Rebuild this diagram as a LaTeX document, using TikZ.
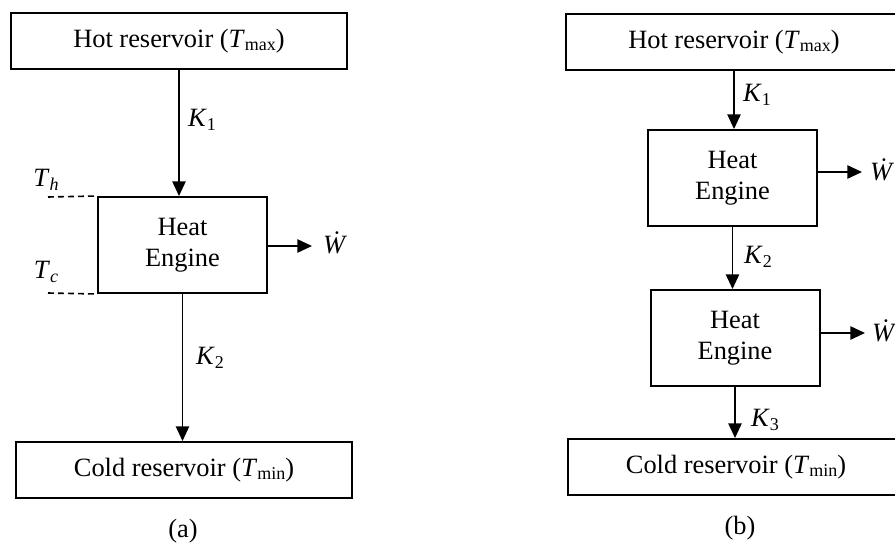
\documentclass[tikz,border=0pt]{standalone}
\usepackage{fontspec}
\setmainfont{Liberation Serif}
\usetikzlibrary{arrows.meta}

\newcommand{\lowidx}[1]{\raisebox{-0.3ex}{\fontsize{13.5}{13.5}\selectfont #1}}
\newcommand{\var}[2]{\textit{#1}\lowidx{#2}}
\newcommand{\wdot}{\textit{\.W}}

\tikzset{every picture/.style={line width=0.75pt}}
\tikzset{
  reservoir/.style={draw, line width=1.5pt, minimum width=252pt, minimum height=42pt, inner sep=0pt},
  engine/.style={draw, line width=1.5pt, minimum width=126.75pt, minimum height=72pt, inner sep=0pt, align=center},
  flow/.style={line width=1.2pt, -{Triangle[length=11pt,width=10pt]}},
  templine/.style={line width=1.2pt, dash pattern=on 4.5pt off 3pt},
}

\begin{document}
\begin{tikzpicture}[x=0.75pt,y=0.75pt,yscale=-1,xscale=1,font=\fontsize{19.8}{23}\selectfont]
\clip (0,0) rectangle (895,549);

%Shape: Rectangle [panel (a)]
\node [reservoir] (hotA) at (179,41) {Hot reservoir (\var{T}{max})};
\node [engine] (engA) at (182.5,245) {Heat\\Engine};
\node [reservoir] (coldA) at (184,470) {Cold reservoir (\var{T}{min})};
\coordinate (thA) at (48,197);
\coordinate (tcA) at (48,293);
\coordinate (wA) at (312,246);

%Straight Lines [panel (a)]
\draw [flow] (hotA.south) -- (hotA.south |- engA.north);
\draw [flow] (engA.south) -- (engA.south |- coldA.north);
\draw [flow] (engA.east |- wA) -- (wA);
\draw [templine] (thA) -- (engA.north west);
\draw [templine] (tcA) -- (engA.south west);

% Text Node
\node (k1A) at (202,120) {\var{K}{1}};
\node (k2A) at (210,358) {\var{K}{2}};
\node (thLab) at (46,180) {\var{T}{\textit{h}}};
\node (tcLab) at (46,272) {\var{T}{\textit{c}}};
\node (wLabA) at (335,243) {\wdot};
\node (capA) at (183,531) {(a)};

%Shape: Rectangle [panel (b)]
\node [reservoir] (hotB) at (734,42) {Hot reservoir (\var{T}{max})};
\node [engine] (engB1) at (732.5,178) {Heat\\Engine};
\node [engine] (engB2) at (735,338) {Heat\\Engine};
\node [reservoir] (coldB) at (736,467) {Cold reservoir (\var{T}{min})};
\coordinate (wB1) at (862,172);
\coordinate (wB2) at (865,333);

%Straight Lines [panel (b)]
\draw [flow] (hotB.south) -- (hotB.south |- engB1.north);
\draw [flow] (engB1.south) -- (engB1.south |- engB2.north);
\draw [flow] (engB2.south) -- (engB2.south |- coldB.north);
\draw [flow] (engB1.east |- wB1) -- (wB1);
\draw [flow] (engB2.east |- wB2) -- (wB2);

% Text Node
\node (k1B) at (757,95) {\var{K}{1}};
\node (k2B) at (758,257) {\var{K}{2}};
\node (k3B) at (765,420) {\var{K}{3}};
\node (wLabB1) at (882,170) {\wdot};
\node (wLabB2) at (884,331) {\wdot};
\node (capB) at (740,528) {(b)};

\end{tikzpicture}
\end{document}
